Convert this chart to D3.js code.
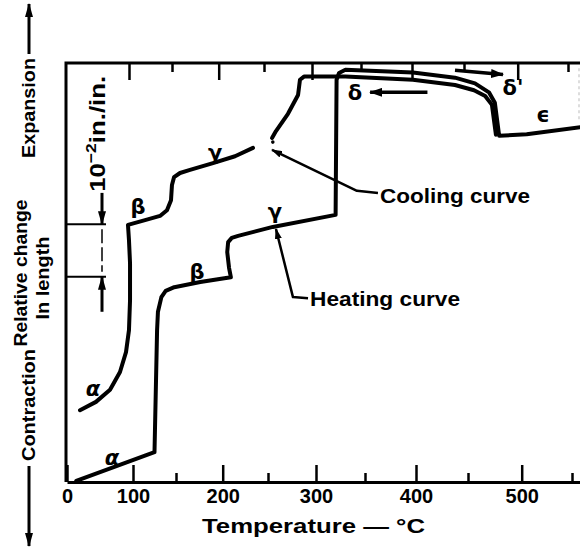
<!DOCTYPE html>
<html>
<head>
<meta charset="utf-8">
<script src="https://cdn.jsdelivr.net/npm/d3@7"></script>
<style>
  html, body { margin: 0; padding: 0; background: #fff; }
  svg { display: block; font-family: "Liberation Sans", Arial, sans-serif; font-weight: bold; }
</style>
</head>
<body>
<svg id="chart" width="580" height="550"></svg>
<script>
// Temperature ticks (°C)
const majorTicks = [0, 100, 200, 300, 400, 500];
const minorTicks = [150, 250, 350, 450, 550];

// Dilatometer traces: [temperature °C, relative change in length (10^-2 in./in.)]
const heatingCurve = [
  [14, 0.02], [125, 0.57], [128, 2.90], [129, 3.25], [133, 3.53], [138, 3.65],
  [148, 3.72], [176, 3.82], [209, 3.91], [207, 4.09], [205, 4.39], [206, 4.58],
  [210, 4.66], [217, 4.70], [255, 4.87], [320, 5.10], [321, 7.68], [323.5, 7.81],
  [330, 7.87], [397, 7.82], [437.5, 7.72], [456.5, 7.61], [469.5, 7.44],
  [475, 7.24], [479, 6.61], [505, 6.64], [560, 6.78]
];
const coolingHigh = [
  [476, 6.63], [472.3, 7.20], [466, 7.37], [455.6, 7.48], [437.5, 7.58],
  [397, 7.68], [330, 7.74], [287.5, 7.74], [283.3, 7.68], [281.3, 7.39],
  [270.8, 7.03], [258.3, 6.70], [254.2, 6.57]
];
const coolingLow = [
  [233.4, 6.38], [213.6, 6.22], [189.6, 6.09], [165, 5.96], [154.3, 5.90],
  [147.7, 5.82], [145.3, 5.67], [144.2, 5.38], [139.5, 5.19], [131.4, 5.08],
  [114, 5.00], [92.4, 4.91], [93.9, 4.62], [95.5, 4.18], [95.5, 3.47],
  [93.9, 2.90], [89.4, 2.48], [80.3, 2.10], [65.2, 1.76], [43.9, 1.53], [19.7, 1.37]
];

// Phase names placed along the traces
const phaseNames = ["α", "α", "β", "γ", "β", "γ", "δ", "δ'", "ϵ"];
const phaseTemps = [68, 39.4, 105.8, 191.8, 172.5, 257.3, 339.8, 491.9, 521.2];
const phaseLevels = [0.46, 1.78, 5.25, 6.28, 4.01, 5.16, 7.43, 7.52, 7.01];
const phaseItalic = [true, true, false, false, false, false, false, false, false];

// Direction arrows along the δ plateau: [from, to] in [°C, 10^-2 in./in.]
const heatingArrow = [[437.5, 7.86], [482.6, 7.78]];
const coolingArrow = [[411, 7.44], [355, 7.44]];

// Leader lines from curve names to the traces (last point is the arrow tip)
const coolingLeader = [[362.7, 5.52], [341.8, 5.56], [254.2, 6.34]];
const heatingLeader = [[291.7, 3.51], [276, 3.53], [258.3, 4.83]];
const curveNames = ["Cooling curve", "Heating curve"];
const curveNameAt = [[364.7, 5.33], [293.8, 3.36]];

// Size of the strain scale bar (one unit = 10^-2 in./in.)
const scaleBar = [3.92, 4.92];

const svg = d3.select("#chart");

const x = d3.scaleLinear()
  .domain([0, 100, 150, 200, 250, 300, 350, 400, 450, 500, 550, 560])
  .range([67, 133, 176, 222.7, 268, 316, 365, 416, 468, 521.7, 572, 582]);
const xTop = x.copy().range(x.range().map(p => p - 4));
const y = d3.scaleLinear().domain([0, 8]).range([482, 63]);

const defs = svg.append("defs");
function marker(id, len, wid) {
  defs.append("marker")
    .attr("id", id)
    .attr("viewBox", `0 ${-wid / 2} ${len} ${wid}`)
    .attr("refX", len - 1).attr("refY", 0)
    .attr("markerWidth", len).attr("markerHeight", wid)
    .attr("markerUnits", "userSpaceOnUse")
    .attr("orient", "auto")
    .append("path")
    .attr("d", `M0,${-wid / 2}L${len},0L0,${wid / 2}Z`)
    .attr("fill", "#000");
}
marker("headSmall", 11, 7);
marker("headBar", 14, 8);
marker("headWide", 13, 9);

// Frame: left and top edges
svg.append("path")
  .attr("d", `M${x(0) - 1},${y(0)}V${y(8)}H${x(560)}`)
  .attr("fill", "none").attr("stroke", "#000").attr("stroke-width", 3);
svg.append("line")
  .attr("x1", 579).attr("x2", 579).attr("y1", y(7.9)).attr("y2", y(6.9))
  .attr("stroke", "#bbb").attr("stroke-width", 1).attr("stroke-dasharray", "3,3");

// Bottom axis (major ticks with labels)
const gBottom = svg.append("g")
  .attr("transform", `translate(0,${y(0)})`)
  .call(d3.axisBottom(x).tickValues(majorTicks).tickSizeInner(-17)
    .tickSizeOuter(0).tickPadding(7).tickFormat(d3.format("d")));
gBottom.select(".domain").attr("stroke-width", 3);
gBottom.selectAll(".tick line").attr("stroke-width", 2.5);
gBottom.selectAll(".tick text")
  .attr("font-family", "'Liberation Sans', Arial, sans-serif")
  .attr("font-weight", "bold").attr("font-size", 20).attr("fill", "#000");

const gBottomMinor = svg.append("g")
  .attr("transform", `translate(0,${y(0)})`)
  .call(d3.axisBottom(x).tickValues(minorTicks).tickSizeInner(-9)
    .tickSizeOuter(0).tickFormat(""));
gBottomMinor.select(".domain").remove();
gBottomMinor.selectAll(".tick line").attr("stroke-width", 2.5);

// Top axis ticks (inside the frame)
const gTop = svg.append("g")
  .attr("transform", `translate(0,${y(8)})`)
  .call(d3.axisTop(xTop).tickValues(majorTicks.filter(d => d > 0)).tickSizeInner(-17)
    .tickSizeOuter(0).tickFormat(""));
gTop.select(".domain").remove();
gTop.selectAll(".tick line").attr("stroke-width", 2.5);
const gTopMinor = svg.append("g")
  .attr("transform", `translate(0,${y(8)})`)
  .call(d3.axisTop(xTop).tickValues(minorTicks).tickSizeInner(-9)
    .tickSizeOuter(0).tickFormat(""));
gTopMinor.select(".domain").remove();
gTopMinor.selectAll(".tick line").attr("stroke-width", 2.5);

// Axis title
svg.append("text")
  .attr("x", 313.5).attr("y", 533)
  .attr("text-anchor", "middle").attr("font-size", 21)
  .attr("textLength", 223).attr("lengthAdjust", "spacingAndGlyphs")
  .text("Temperature — °C");

// Vertical axis titles
function vText(txt, bx, cy, size, len) {
  svg.append("text")
    .attr("transform", `translate(${bx},${cy}) rotate(-90)`)
    .attr("text-anchor", "middle").attr("font-size", size)
    .attr("textLength", len).attr("lengthAdjust", "spacingAndGlyphs")
    .text(txt);
}
vText("Relative change", 27, 273, 19, 147);
vText("In length", 49, 278, 19, 83);
vText("Expansion", 35, 108, 19, 100);
vText("Contraction", 35, 405, 19, 112);

// Expansion / contraction direction arrows
svg.append("line")
  .attr("x1", 29).attr("x2", 29).attr("y1", 54).attr("y2", 4)
  .attr("stroke", "#000").attr("stroke-width", 3).attr("marker-end", "url(#headBar)");
svg.append("line")
  .attr("x1", 29).attr("x2", 29).attr("y1", 466).attr("y2", 546)
  .attr("stroke", "#000").attr("stroke-width", 3).attr("marker-end", "url(#headBar)");

// Strain scale bar next to the vertical axis
const barX = x(0) + 35;
scaleBar.forEach(v => {
  svg.append("line")
    .attr("x1", x(0) - 1).attr("x2", barX + 4)
    .attr("y1", y(v)).attr("y2", y(v))
    .attr("stroke", "#000").attr("stroke-width", 2);
});
svg.append("line")
  .attr("x1", barX).attr("x2", barX)
  .attr("y1", y(scaleBar[1]) + 5).attr("y2", y(scaleBar[0]) - 5)
  .attr("stroke", "#000").attr("stroke-width", 1.5).attr("stroke-dasharray", "14,4");
svg.append("line")
  .attr("x1", barX).attr("x2", barX)
  .attr("y1", y(scaleBar[1] + 0.6)).attr("y2", y(scaleBar[1]))
  .attr("stroke", "#000").attr("stroke-width", 3).attr("marker-end", "url(#headBar)");
svg.append("line")
  .attr("x1", barX).attr("x2", barX)
  .attr("y1", y(scaleBar[0] - 0.67)).attr("y2", y(scaleBar[0]))
  .attr("stroke", "#000").attr("stroke-width", 3).attr("marker-end", "url(#headBar)");
const unitText = svg.append("text")
  .attr("transform", `translate(${barX + 3},${y(scaleBar[1] + 0.62)}) rotate(-90)`)
  .attr("font-size", 22)
  .attr("textLength", 116).attr("lengthAdjust", "spacingAndGlyphs");
unitText.append("tspan").text("10");
unitText.append("tspan").attr("dy", -9).attr("font-size", 15).text("−2");
unitText.append("tspan").attr("dy", 9).text("in./in.");

// Traces
const line = d3.line().x(d => x(d[0])).y(d => y(d[1]));
[heatingCurve, coolingHigh, coolingLow].forEach(pts => {
  svg.append("path")
    .attr("d", line(pts))
    .attr("fill", "none").attr("stroke", "#000").attr("stroke-width", 4)
    .attr("stroke-linejoin", "round").attr("stroke-linecap", "round");
});
// small fragment in the break of the cooling trace
svg.append("circle")
  .attr("cx", x(255)).attr("cy", y(6.49)).attr("r", 1.8).attr("fill", "#000");

// Direction arrows along the δ plateau
[heatingArrow, coolingArrow].forEach(a => {
  svg.append("path")
    .attr("d", line(a))
    .attr("stroke", "#000").attr("stroke-width", 3.5).attr("fill", "none")
    .attr("marker-end", "url(#headWide)");
});

// Leader lines and curve names
[coolingLeader, heatingLeader].forEach(pts => {
  svg.append("path")
    .attr("d", line(pts))
    .attr("stroke", "#000").attr("stroke-width", 2.5).attr("fill", "none")
    .attr("stroke-linejoin", "round")
    .attr("marker-end", "url(#headSmall)");
});
curveNames.forEach((name, i) => {
  svg.append("text")
    .attr("x", x(curveNameAt[i][0])).attr("y", y(curveNameAt[i][1]))
    .attr("font-size", 20)
    .attr("textLength", 150).attr("lengthAdjust", "spacingAndGlyphs")
    .text(name);
});

// Phase names
phaseNames.forEach((name, i) => {
  svg.append("text")
    .attr("x", x(phaseTemps[i])).attr("y", y(phaseLevels[i]))
    .attr("text-anchor", "middle").attr("dominant-baseline", "central")
    .attr("font-family", "'DejaVu Sans', sans-serif")
    .attr("font-style", phaseItalic[i] ? "italic" : "normal")
    .attr("font-size", 21)
    .text(name);
});
</script>
</body>
</html>
